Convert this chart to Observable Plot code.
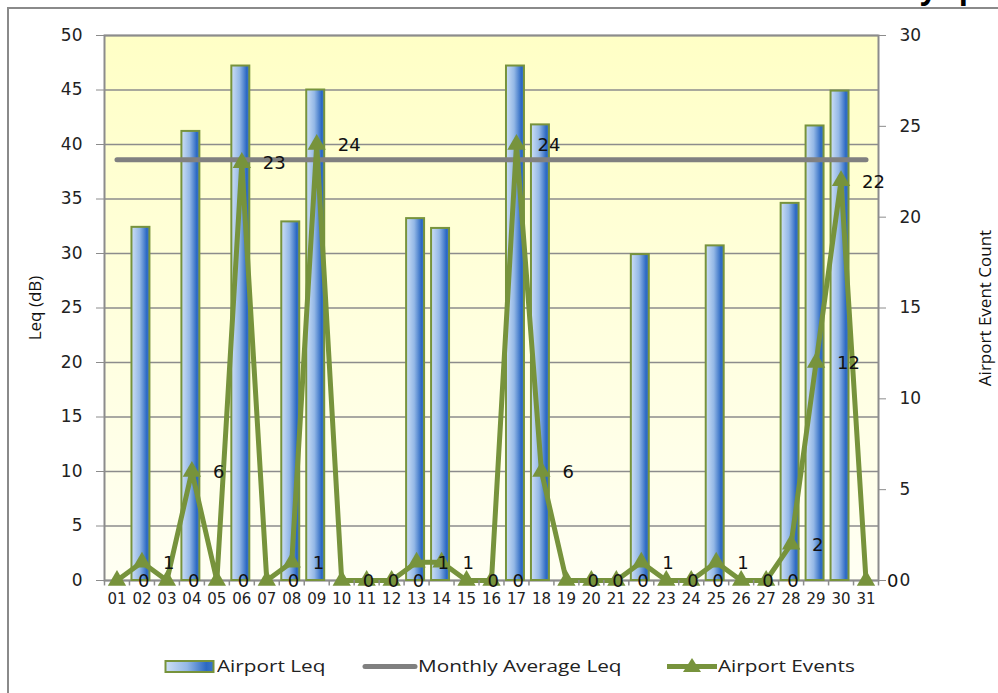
<!DOCTYPE html>
<html><head><meta charset="utf-8">
<script src="https://cdn.jsdelivr.net/npm/d3@7"></script>
<script src="https://cdn.jsdelivr.net/npm/@observablehq/plot@0.6"></script>
<style>
html,body{margin:0;padding:0;background:#fff;overflow:hidden;}
#wrap{position:relative;width:998px;height:693px;overflow:hidden;}
#border{position:absolute;left:7px;top:7px;width:1200px;height:1000px;border-left:2px solid #8a8a8a;border-top:2px solid #8a8a8a;}
#title{position:absolute;left:920px;top:-33px;font:bold 30px "Open Sans";white-space:nowrap;color:#000;word-spacing:14px;}
#chart{position:absolute;left:0;top:0;}
#chart g[aria-label="y-axis tick label"] text{font-size:17px;}
#chart g[aria-label="x-axis tick label"] text{font-size:15px;}
.lt{position:absolute;top:655px;font:17px "Open Sans";line-height:22px;color:#222;white-space:nowrap;transform:scaleX(1.22);transform-origin:left center;}
.sw{position:absolute;}
</style></head><body>
<div id="wrap">
  <div id="border"></div>
  <div id="title">y p</div>
  <div id="chart"></div>
  <div id="legend">
    <svg class="sw" style="left:164px;top:659px" width="52" height="16"><rect x="1.5" y="2" width="48" height="11" fill="url(#barGrad)" stroke="#77933c" stroke-width="2"/></svg>
    <span class="lt" style="left:217px">Airport Leq</span>
    <svg class="sw" style="left:360px;top:659px" width="60" height="16"><line x1="5" y1="7.5" x2="55" y2="7.5" stroke="#808080" stroke-width="5" stroke-linecap="round"/></svg>
    <span class="lt" style="left:418px">Monthly Average Leq</span>
    <svg class="sw" style="left:664px;top:653px" width="56" height="24"><line x1="3" y1="13.5" x2="53" y2="13.5" stroke="#77933c" stroke-width="5"/><path d="M28,5 L37,19 L19,19 Z" fill="#77933c"/></svg>
    <span class="lt" style="left:718px">Airport Events</span>
  </div>
</div>
<script>
const days = ["01","02","03","04","05","06","07","08","09","10","11","12","13","14","15","16","17","18","19","20","21","22","23","24","25","26","27","28","29","30","31"];
const airportLeq = [null,32.4,null,41.2,null,47.2,null,32.9,45.0,null,null,null,33.2,32.3,null,null,47.2,41.8,null,null,null,29.9,null,null,30.7,null,null,34.6,41.7,44.9,null];
const airportEvents = [0,1,0,6,0,23,0,1,24,0,0,0,1,1,0,0,24,6,0,0,0,1,0,0,1,0,0,2,12,22,0];
const monthlyAverageLeq = 38.6;
const leqTicks = [0,5,10,15,20,25,30,35,40,45,50];
const eventTicks = [0,5,10,15,20,25,30];
const leqMax = 50, eventMax = 30;
const k = leqMax / eventMax;

const bars = days.map((d,i)=>({day:d, v:airportLeq[i]})).filter(d=>d.v!=null);
const ev = days.map((d,i)=>({day:d, e:airportEvents[i]}));
const avg = days.map(d=>({day:d, v:monthlyAverageLeq}));

const W = 998, H = 630, mL = 104, mR = 120, mT = 35, mB = 50;
const bw = (W - mL - mR) / days.length;

const chart = Plot.plot({
  width: W, height: H,
  marginLeft: mL, marginRight: mR, marginTop: mT, marginBottom: mB,
  style: {background: "transparent", fontFamily: "DejaVu Sans", fontSize: "16px", overflow: "visible"},
  x: {type: "band", domain: days, padding: 0, axis: null},
  y: {domain: [0, leqMax], axis: null},
  marks: [
    Plot.frame({fill: "url(#bgGrad)"}),
    Plot.gridY(leqTicks, {stroke: "#8c8c8c", strokeOpacity: 1, strokeWidth: 1.5}),
    Plot.frame({stroke: "#8c8c8c", strokeWidth: 2}),
    Plot.barY(bars, {x: "day", y: "v", fill: "url(#barGrad)", stroke: "#77933c", strokeWidth: 2, insetLeft: 2.5, insetRight: 4.5}),
    Plot.line(avg, {x: "day", y: "v", stroke: "#808080", strokeWidth: 5, strokeLinecap: "round"}),
    Plot.line(ev, {x: "day", y: d => d.e * k, stroke: "#77933c", strokeWidth: 5, strokeLinejoin: "round"}),
    Plot.dot(ev, {x: "day", y: d => d.e * k, symbol: "triangle", r: 6.8, fill: "#77933c", stroke: "none"}),
    Plot.axisY(leqTicks, {anchor: "left", tickSize: 8, tickPadding: 14, stroke: "#8c8c8c", fill: "#222", fontSize: 17, label: null}),
    Plot.axisY(eventTicks.map(v => v * k), {anchor: "right", tickSize: 7, tickPadding: 14, stroke: "#8c8c8c", fill: "#222", fontSize: 17, label: null, tickFormat: v => String(Math.round(v / k))}),
    Plot.axisX(days, {anchor: "bottom", tickSize: 0, tickPadding: 13, fill: "#222", fontSize: 15, label: null}),
    Plot.ruleX(days, {x: d => d, y1: 0, y2: -0.5, dx: -bw / 2, stroke: "#8c8c8c", strokeWidth: 1.5}),
    Plot.ruleX([days[days.length - 1]], {x: d => d, y1: 0, y2: -0.5, dx: bw / 2, stroke: "#8c8c8c", strokeWidth: 1.5}),
    Plot.text(ev, {x: "day", y: d => d.e * k, text: d => String(d.e), dx: 21, dy: 1, textAnchor: "start", fontSize: 18, fill: "#111"}),
    Plot.text(["Leq (dB)"], {frameAnchor: "left", dx: -69, rotate: -90, textAnchor: "middle", fontFamily: "Open Sans", fontSize: 17, fill: "#111"}),
    Plot.text(["Airport Event Count"], {frameAnchor: "right", dx: 107, rotate: -90, textAnchor: "middle", fontFamily: "Open Sans", fontSize: 17, fill: "#111"})
  ]
});

const svg = d3.select(chart);
const defs = svg.insert("defs", ":first-child");
const bg = defs.append("linearGradient").attr("id", "bgGrad").attr("x1", 0).attr("y1", 0).attr("x2", 0).attr("y2", 1);
bg.append("stop").attr("offset", "0%").attr("stop-color", "#ffffc6");
bg.append("stop").attr("offset", "100%").attr("stop-color", "#fffff3");
const bgr = defs.append("linearGradient").attr("id", "barGrad").attr("x1", 0).attr("y1", 0).attr("x2", 1).attr("y2", 0);
bgr.append("stop").attr("offset", "0%").attr("stop-color", "#cddff5");
bgr.append("stop").attr("offset", "45%").attr("stop-color", "#94b8e6");
bgr.append("stop").attr("offset", "85%").attr("stop-color", "#2c69c3");
bgr.append("stop").attr("offset", "100%").attr("stop-color", "#3b77cb");

document.getElementById("chart").appendChild(chart);
</script>
</body></html>
